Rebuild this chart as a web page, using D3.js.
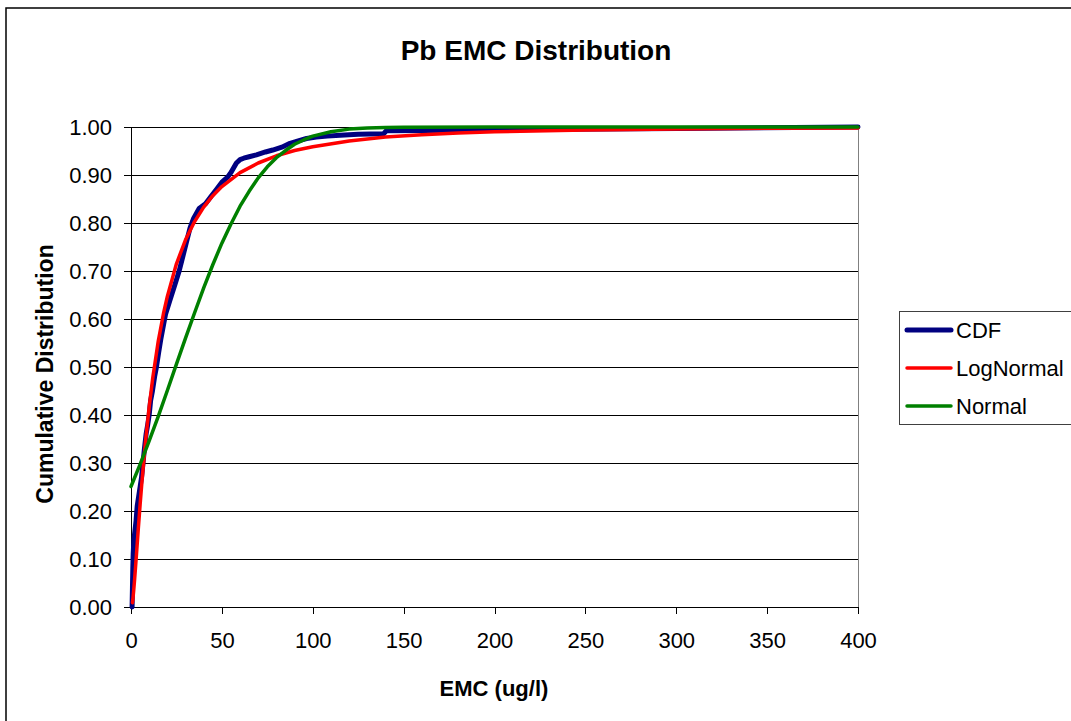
<!DOCTYPE html>
<html><head><meta charset="utf-8">
<script src="https://cdn.jsdelivr.net/npm/d3@7"></script>
<style>body{margin:0;background:#fff} text{font-family:Arial,"Liberation Sans",sans-serif}</style>
</head><body><svg id="c" width="1071" height="721"></svg>
<script>
// ---- data ----
const chartTitle = "Pb EMC Distribution";
const xTitle = "EMC (ug/l)";
const yTitle = "Cumulative Distribution";
const xTicks = [0, 50, 100, 150, 200, 250, 300, 350, 400];
const yTicks = [0, 0.1, 0.2, 0.3, 0.4, 0.5, 0.6, 0.7, 0.8, 0.9, 1.0];
const seriesNames = ["CDF", "LogNormal", "Normal"];

const cdfX = [0.6, 0.8, 1.0, 1.2, 1.6, 2.2, 2.8, 3.4, 4.2, 5.0, 5.8, 6.6, 7.4, 8.3, 9.2, 10.0, 10.8, 11.8, 13.0, 14.0, 15.2, 16.5, 18.0, 19.0, 21.5, 24, 26.5, 28.5, 30.5, 32.5, 34.5, 37.5, 41, 44, 47, 50, 53, 55, 56.5, 58, 60, 62, 65, 69, 74, 78, 83, 87.5, 92, 96.6, 102, 108, 115, 125, 139, 140.5, 180, 220, 300, 400];
const cdfY = [0.00, 0.04, 0.08, 0.11, 0.14, 0.16, 0.18, 0.21, 0.23, 0.25, 0.27, 0.30, 0.33, 0.36, 0.38, 0.40, 0.43, 0.45, 0.48, 0.50, 0.53, 0.56, 0.59, 0.61, 0.64, 0.67, 0.70, 0.73, 0.76, 0.79, 0.81, 0.83, 0.84, 0.855, 0.87, 0.885, 0.895, 0.905, 0.915, 0.925, 0.932, 0.935, 0.938, 0.942, 0.948, 0.952, 0.958, 0.966, 0.971, 0.976, 0.979, 0.981, 0.983, 0.985, 0.986, 0.992, 0.993, 0.995, 0.997, 1.0];

// LogNormal fit
const logX = [0.8, 1, 1.5, 2, 3, 4, 5, 6, 8, 10, 12, 15, 18, 20, 25, 30, 35, 40, 45, 50, 60, 70, 80, 90, 100, 120, 140, 160, 180, 200, 250, 300, 350, 400];
const logY = [0.009, 0.015, 0.035, 0.058, 0.109, 0.162, 0.213, 0.260, 0.345, 0.417, 0.478, 0.554, 0.614, 0.647, 0.715, 0.765, 0.803, 0.833, 0.857, 0.876, 0.905, 0.925, 0.940, 0.951, 0.959, 0.971, 0.979, 0.984, 0.9875, 0.990, 0.994, 0.996, 0.9975, 0.998];

// Normal fit
const normX = [0, 5, 10, 15, 20, 25, 30, 35, 40, 45, 50, 55, 60, 65, 70, 75, 80, 85, 90, 95, 100, 110, 120, 130, 140, 150, 200, 400];
const normY = [0.251, 0.297, 0.346, 0.397, 0.451, 0.506, 0.560, 0.613, 0.665, 0.713, 0.758, 0.798, 0.835, 0.866, 0.894, 0.917, 0.936, 0.951, 0.964, 0.973, 0.981, 0.990, 0.9956, 0.998, 0.9992, 0.9997, 1.0, 1.0];

const colors = ["#000080", "#ff0000", "#008000"];
const widths = [5, 3.5, 3.5];

// ---- drawing ----
const svg = d3.select("#c");
svg.append("rect").attr("x", 6).attr("y", 8).attr("width", 1080).attr("height", 730)
  .attr("fill", "#fff").attr("stroke", "#000").attr("stroke-width", 1.5);

const x = d3.scaleLinear().domain([0, 400]).range([131, 858]);
const y = d3.scaleLinear().domain([0, 1]).range([607, 127]);

// plot area border
svg.append("rect").attr("x", 131).attr("y", 127).attr("width", 727).attr("height", 480)
  .attr("fill", "none").attr("stroke", "#808080").attr("stroke-width", 1).attr("shape-rendering", "crispEdges");

// gridlines
svg.append("g").selectAll("line").data(yTicks.filter(d => d > 0)).join("line")
  .attr("x1", x(0)).attr("x2", x(400)).attr("y1", d => y(d)).attr("y2", d => y(d))
  .attr("stroke", "#000").attr("stroke-width", 1).attr("shape-rendering", "crispEdges");

// axes
const gx = svg.append("g").attr("transform", `translate(0,${y(0)})`)
  .call(d3.axisBottom(x).tickValues(xTicks).tickSize(7).tickPadding(18).tickSizeOuter(0).tickFormat(d3.format("d")));
const gy = svg.append("g").attr("transform", `translate(${x(0)},0)`)
  .call(d3.axisLeft(y).tickValues(yTicks).tickSize(7).tickPadding(12).tickSizeOuter(0).tickFormat(d3.format(".2f")));
[gx, gy].forEach(g => {
  g.selectAll("path.domain").attr("stroke", "#000").attr("stroke-width", 1).attr("shape-rendering", "crispEdges");
  g.selectAll(".tick line").attr("stroke", "#000").attr("shape-rendering", "crispEdges");
  g.selectAll(".tick text").attr("fill", "#000").attr("font-size", 22)
    .attr("font-family", "Arial, 'Liberation Sans', sans-serif");
});
gy.selectAll(".tick text").attr("dy", "0.36em");

// series
const line = d3.line().x(d => x(d[0])).y(d => y(d[1]));
const series = [
  d3.zip(cdfX, cdfY),
  d3.zip(logX, logY),
  d3.zip(normX, normY)
];
series.forEach((s, i) => {
  svg.append("path").datum(s).attr("d", line).attr("fill", "none")
    .attr("stroke", colors[i]).attr("stroke-width", widths[i])
    .attr("stroke-linejoin", "round").attr("stroke-linecap", "round");
});

// titles
svg.append("text").attr("x", 536).attr("y", 60).attr("text-anchor", "middle")
  .attr("font-size", 28).attr("font-weight", "bold").text(chartTitle);
svg.append("text").attr("x", 494).attr("y", 696).attr("text-anchor", "middle")
  .attr("font-size", 22).attr("font-weight", "bold").text(xTitle);
svg.append("text").attr("transform", `translate(53,374) rotate(-90)`).attr("text-anchor", "middle")
  .attr("font-size", 23).attr("font-weight", "bold").text(yTitle);

// legend
const lg = svg.append("g");
lg.append("rect").attr("x", 899).attr("y", 311).attr("width", 172).attr("height", 113)
  .attr("fill", "#fff").attr("stroke", "#404040").attr("stroke-width", 1).attr("shape-rendering", "crispEdges");
const legY = [330, 368, 406];
seriesNames.forEach((n, i) => {
  lg.append("line").attr("x1", 907).attr("x2", 951).attr("y1", legY[i]).attr("y2", legY[i])
    .attr("stroke", colors[i]).attr("stroke-width", widths[i]).attr("stroke-linecap", "round");
  lg.append("text").attr("x", 956).attr("y", legY[i]).attr("dy", "0.36em")
    .attr("font-size", 22).text(n);
});
</script></body></html>
